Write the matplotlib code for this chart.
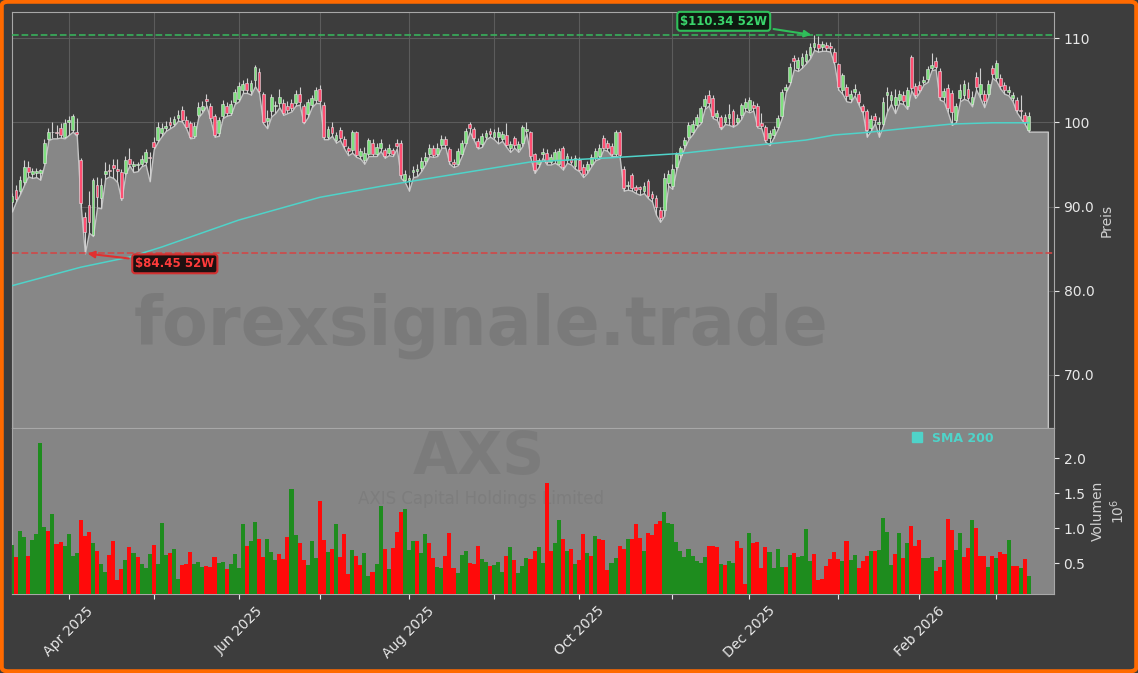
import numpy as np
import pandas as pd
import matplotlib
matplotlib.use("Agg")
import matplotlib.pyplot as plt
from matplotlib.lines import Line2D
from matplotlib.patches import FancyBboxPatch

# ---- data ----
start_date = "2025-03-12"
end_date = "2026-03-12"
holidays = ["2025-04-18", "2025-05-26", "2025-06-19", "2025-07-04", "2025-09-01",
            "2025-11-27", "2025-12-25", "2026-01-01", "2026-01-19", "2026-02-16"]

opens = [
    90.6, 92.0, 91.8, 92.9, 94.7, 93.9, 94.0, 94.0, 95.2, 98.0,
    98.8, 98.9, 99.3, 98.3, 100.1, 99.1, 98.8, 95.5, 88.8, 90.2,
    86.6, 92.6, 91.0, 93.9, 94.3, 94.9, 94.5, 94.1, 94.0, 95.7,
    94.8, 94.9, 95.1, 95.3, 95.9, 97.7, 97.9, 98.7, 99.3, 100.1,
    99.8, 100.5, 101.5, 100.3, 99.9, 98.4, 100.9, 101.5, 102.8, 101.9,
    100.7, 98.7, 100.7, 102.0, 101.1, 102.4, 102.8, 103.8, 104.7, 103.7,
    105.0, 106.0, 103.4, 100.2, 101.3, 101.9, 102.3, 102.3, 102.0, 102.3,
    102.3, 103.4, 101.9, 101.0, 102.1, 102.6, 104.0, 102.1, 98.3, 99.5,
    97.9, 99.1, 98.0, 96.9, 96.7, 98.8, 96.0, 95.5, 96.3, 97.6,
    96.3, 96.9, 96.7, 96.4, 96.7, 97.6, 97.6, 93.2, 93.1, 94.1,
    94.2, 94.6, 95.4, 96.3, 96.9, 96.3, 97.3, 98.0, 96.8, 95.3,
    95.1, 96.3, 97.6, 99.8, 99.2, 97.8, 97.4, 98.3, 99.0, 98.3,
    98.3, 98.0, 98.5, 96.9, 98.1, 96.8, 97.5, 99.0, 98.8, 96.2,
    95.0, 96.2, 96.4, 95.3, 95.5, 95.1, 96.9, 95.5, 95.7, 94.8,
    95.5, 94.7, 94.3, 95.1, 95.8, 96.0, 98.2, 97.6, 97.2, 96.2,
    98.9, 94.5, 92.4, 93.7, 92.3, 92.3, 91.9, 93.0, 91.5, 91.0,
    89.6, 89.6, 92.8, 92.4, 94.7, 96.1, 97.3, 98.3, 98.9, 99.7,
    100.1, 101.9, 103.2, 102.9, 100.6, 100.6, 100.1, 100.5, 101.3, 100.1,
    100.9, 101.7, 101.5, 102.1, 102.0, 99.9, 99.4, 98.1, 98.5, 99.5,
    100.8, 103.9, 104.8, 107.6, 106.4, 106.8, 107.3, 108.0, 109.0, 109.3,
    108.9, 109.2, 109.1, 108.4, 106.9, 103.8, 104.2, 102.8, 103.6, 103.4,
    101.9, 101.3, 99.3, 100.7, 99.8, 99.8, 103.2, 102.7, 102.1, 102.7,
    103.3, 101.9, 107.8, 104.3, 104.4, 104.8, 105.1, 106.5, 107.3, 106.1,
    103.0, 104.1, 103.5, 100.3, 102.9, 103.2, 104.0, 102.2, 105.4, 103.4,
    103.4, 103.4, 106.4, 105.3, 105.3, 104.4, 103.6, 102.9, 102.6, 101.5,
    100.9, 99.1,
]
highs = [
    91.6, 92.6, 93.6, 95.5, 95.4, 94.6, 94.6, 94.5, 98.0, 99.3,
    100.1, 99.7, 99.9, 100.4, 100.7, 101.0, 100.5, 95.8, 89.3, 91.9,
    93.4, 93.5, 93.4, 95.3, 95.0, 95.7, 95.7, 94.5, 96.0, 96.9,
    95.4, 95.3, 96.1, 96.8, 96.5, 98.3, 100.0, 99.9, 100.2, 100.6,
    100.8, 101.5, 102.0, 100.7, 100.2, 100.0, 102.4, 102.5, 103.4, 102.3,
    101.0, 100.6, 102.6, 102.4, 102.6, 104.0, 104.8, 105.0, 105.3, 105.0,
    106.8, 106.4, 103.6, 101.5, 103.4, 102.5, 104.0, 102.8, 102.5, 102.8,
    103.8, 104.2, 102.2, 102.8, 103.3, 104.2, 104.4, 102.4, 99.6, 100.1,
    98.9, 99.5, 98.4, 97.2, 99.1, 99.0, 96.9, 97.1, 98.2, 98.0,
    97.6, 98.0, 97.0, 97.4, 97.0, 98.0, 97.9, 94.4, 93.8, 94.8,
    95.0, 95.9, 96.5, 97.4, 97.3, 97.6, 98.5, 98.4, 97.1, 95.6,
    96.9, 97.9, 99.3, 100.1, 99.5, 98.1, 98.7, 99.1, 99.3, 99.2,
    99.4, 99.0, 99.9, 97.8, 98.4, 97.8, 99.7, 100.0, 99.0, 96.4,
    95.8, 96.9, 96.8, 96.3, 96.8, 97.0, 97.2, 96.4, 96.0, 96.1,
    95.9, 95.0, 95.4, 96.3, 97.0, 97.4, 98.5, 97.9, 97.5, 99.1,
    99.1, 94.8, 93.0, 94.0, 92.6, 92.5, 92.9, 93.3, 91.9, 91.4,
    90.0, 94.0, 94.4, 95.0, 96.5, 97.2, 98.3, 100.0, 100.3, 101.0,
    102.0, 103.2, 103.8, 103.2, 101.5, 100.9, 101.0, 102.2, 101.6, 101.0,
    102.3, 102.9, 103.0, 102.5, 102.3, 101.1, 99.7, 99.1, 99.6, 100.9,
    104.0, 104.5, 107.0, 108.0, 107.8, 108.2, 108.6, 109.4, 110.34, 110.3,
    109.7, 109.5, 109.5, 108.8, 107.1, 105.9, 104.6, 103.8, 104.5, 103.7,
    102.2, 101.6, 100.9, 101.1, 100.6, 103.0, 104.2, 103.7, 104.0, 103.9,
    103.7, 104.2, 108.0, 104.7, 104.9, 105.5, 106.7, 108.2, 107.8, 106.4,
    104.1, 104.5, 103.8, 102.3, 104.5, 105.0, 104.8, 103.7, 106.0, 106.4,
    103.8, 105.0, 106.8, 107.4, 105.7, 104.8, 104.3, 103.6, 103.0, 103.2,
    101.2, 101.2,
]
lows = [
    89.4, 90.6, 91.5, 92.6, 93.6, 93.4, 93.5, 93.2, 95.0, 97.9,
    98.1, 98.1, 98.2, 98.1, 98.5, 98.9, 98.4, 90.0, 84.45, 86.9,
    86.5, 89.9, 89.8, 93.3, 93.6, 93.4, 92.9, 90.8, 93.8, 94.9,
    94.1, 94.2, 94.8, 95.0, 93.0, 96.8, 97.7, 98.4, 99.0, 99.3,
    99.6, 100.2, 100.1, 99.3, 98.1, 98.2, 100.6, 101.2, 102.0, 100.3,
    98.3, 98.4, 100.5, 100.8, 100.9, 102.2, 102.5, 103.5, 103.5, 103.3,
    104.3, 103.5, 99.9, 99.3, 100.7, 101.1, 101.8, 100.9, 101.1, 101.3,
    102.0, 102.1, 99.9, 100.6, 101.8, 102.3, 102.3, 98.0, 98.0, 98.4,
    97.6, 97.9, 96.9, 96.1, 96.4, 95.9, 95.7, 95.1, 96.0, 96.0,
    96.0, 96.6, 95.8, 96.1, 96.0, 96.9, 93.4, 92.9, 91.9, 93.5,
    93.6, 94.2, 95.0, 96.0, 95.9, 96.0, 97.0, 97.0, 95.1, 94.7,
    94.9, 96.0, 97.4, 98.9, 97.9, 96.9, 97.1, 98.0, 98.3, 98.0,
    97.5, 97.8, 97.1, 96.5, 97.0, 96.5, 97.2, 98.7, 95.8, 94.0,
    94.7, 95.8, 95.0, 95.0, 95.2, 94.9, 94.4, 95.2, 95.0, 94.5,
    94.2, 93.5, 94.0, 94.8, 95.5, 95.7, 96.8, 96.6, 96.0, 96.0,
    95.9, 91.9, 92.0, 91.9, 91.6, 91.4, 91.6, 91.0, 90.6, 89.0,
    88.2, 88.9, 92.5, 92.1, 94.4, 95.8, 97.0, 98.0, 98.6, 99.4,
    99.9, 101.6, 102.0, 100.5, 100.3, 99.2, 99.8, 99.7, 99.5, 99.8,
    100.4, 101.4, 101.2, 101.4, 99.4, 99.3, 97.7, 97.3, 98.2, 99.2,
    100.5, 103.6, 104.5, 106.3, 106.1, 106.5, 107.0, 107.6, 108.6, 108.4,
    108.5, 108.5, 108.4, 106.9, 103.9, 103.4, 102.5, 102.4, 103.2, 102.1,
    101.1, 98.3, 99.0, 99.9, 98.3, 99.6, 101.3, 102.2, 101.1, 102.3,
    102.2, 101.6, 103.8, 102.9, 103.6, 104.5, 104.8, 106.2, 106.3, 102.7,
    102.5, 101.2, 99.7, 100.0, 102.5, 102.8, 102.6, 101.9, 103.9, 102.9,
    101.8, 103.1, 105.3, 104.9, 104.0, 103.4, 103.2, 102.5, 101.2, 100.5,
    99.8, 98.9,
]
closes = [
    91.2, 90.9, 93.2, 94.7, 94.1, 94.2, 94.2, 94.3, 97.5, 98.8,
    98.9, 98.7, 98.5, 99.9, 100.3, 100.8, 98.6, 90.4, 87.0, 88.2,
    93.2, 91.1, 92.6, 94.2, 94.2, 94.6, 94.2, 91.0, 95.5, 95.1,
    95.0, 95.1, 95.7, 96.5, 95.8, 97.1, 99.5, 99.3, 99.6, 99.7,
    100.4, 100.9, 100.3, 99.5, 98.3, 99.6, 101.8, 102.0, 102.5, 100.5,
    98.5, 100.3, 102.2, 101.1, 102.2, 103.6, 104.3, 104.5, 103.8, 104.7,
    106.6, 103.7, 100.1, 100.5, 103.0, 102.1, 103.0, 101.1, 101.5, 101.7,
    103.4, 102.4, 100.1, 102.4, 102.9, 103.9, 102.5, 98.3, 99.2, 98.7,
    98.5, 98.1, 97.2, 96.6, 98.9, 96.1, 96.6, 96.4, 97.9, 96.3,
    97.1, 97.5, 96.0, 97.0, 96.3, 97.2, 93.7, 93.9, 93.4, 94.3,
    94.5, 95.4, 95.9, 96.9, 96.1, 97.0, 98.0, 97.3, 95.4, 95.1,
    96.6, 97.6, 99.0, 99.3, 98.2, 97.1, 98.4, 98.7, 98.6, 98.8,
    98.9, 98.6, 97.3, 97.4, 97.3, 97.4, 99.4, 99.2, 96.0, 94.3,
    95.5, 96.5, 95.3, 95.9, 96.5, 96.6, 94.7, 96.0, 95.3, 95.8,
    94.4, 93.9, 95.0, 95.9, 96.6, 96.9, 97.0, 96.9, 96.3, 98.9,
    96.1, 92.2, 92.6, 92.2, 92.0, 92.1, 92.5, 91.3, 91.0, 90.0,
    88.7, 93.4, 93.9, 94.5, 96.2, 96.9, 97.9, 99.7, 99.8, 100.6,
    101.7, 102.8, 102.3, 100.8, 101.1, 99.4, 100.6, 101.0, 99.7, 100.5,
    102.1, 102.4, 102.6, 101.7, 99.6, 99.6, 97.9, 98.7, 99.2, 100.5,
    103.6, 104.2, 106.6, 107.3, 107.4, 107.8, 108.1, 109.0, 109.4, 108.8,
    109.3, 108.8, 108.8, 107.2, 104.2, 105.6, 103.1, 103.4, 104.0, 102.4,
    101.4, 99.1, 100.4, 100.3, 100.1, 102.4, 103.6, 103.2, 103.0, 103.4,
    102.5, 103.8, 104.1, 103.2, 103.9, 105.0, 106.3, 106.8, 106.6, 103.0,
    103.7, 101.7, 101.2, 101.9, 103.8, 104.6, 102.9, 103.0, 104.2, 104.6,
    102.5, 104.6, 105.7, 107.0, 104.3, 103.9, 103.8, 103.2, 101.5, 101.3,
    100.1, 100.8,
]
# volume in millions of shares
volume = [
    0.76, 0.59, 0.96, 0.87, 0.60, 0.83, 0.92, 2.22, 1.01, 0.96,
    1.20, 0.77, 0.80, 0.74, 0.92, 0.60, 0.65, 1.12, 0.89, 0.94,
    0.78, 0.67, 0.49, 0.37, 0.61, 0.82, 0.26, 0.41, 0.54, 0.73,
    0.64, 0.59, 0.49, 0.43, 0.63, 0.76, 0.49, 1.07, 0.61, 0.64,
    0.70, 0.27, 0.47, 0.49, 0.66, 0.49, 0.51, 0.44, 0.46, 0.44,
    0.59, 0.50, 0.52, 0.41, 0.49, 0.63, 0.43, 1.06, 0.74, 0.82,
    1.09, 0.84, 0.59, 0.84, 0.66, 0.54, 0.63, 0.56, 0.87, 1.56,
    0.90, 0.79, 0.54, 0.47, 0.82, 0.57, 1.39, 0.83, 0.66, 0.70,
    1.06, 0.59, 0.91, 0.34, 0.69, 0.60, 0.47, 0.64, 0.31, 0.37,
    0.49, 1.31, 0.70, 0.41, 0.71, 0.94, 1.23, 1.27, 0.69, 0.82,
    0.82, 0.64, 0.91, 0.79, 0.57, 0.44, 0.43, 0.60, 0.93, 0.43,
    0.36, 0.61, 0.67, 0.50, 0.49, 0.74, 0.56, 0.52, 0.46, 0.47,
    0.52, 0.37, 0.60, 0.73, 0.54, 0.36, 0.46, 0.57, 0.56, 0.67,
    0.73, 0.50, 1.64, 0.67, 0.79, 1.11, 0.84, 0.67, 0.70, 0.49,
    0.54, 0.91, 0.64, 0.60, 0.89, 0.84, 0.83, 0.40, 0.50, 0.57,
    0.74, 0.70, 0.84, 0.84, 1.06, 0.86, 0.67, 0.93, 0.90, 1.06,
    1.10, 1.23, 1.07, 1.06, 0.80, 0.67, 0.59, 0.70, 0.60, 0.53,
    0.50, 0.59, 0.74, 0.74, 0.73, 0.49, 0.47, 0.53, 0.50, 0.82,
    0.71, 0.20, 0.93, 0.79, 0.80, 0.43, 0.73, 0.66, 0.43, 0.70,
    0.44, 0.44, 0.61, 0.64, 0.59, 0.60, 0.99, 0.53, 0.63, 0.26,
    0.27, 0.46, 0.56, 0.66, 0.56, 0.53, 0.82, 0.54, 0.61, 0.43,
    0.53, 0.60, 0.67, 0.67, 0.69, 1.14, 0.94, 0.47, 0.63, 0.93,
    0.57, 0.79, 1.03, 0.74, 0.83, 0.57, 0.57, 0.59, 0.39, 0.44,
    0.54, 1.13, 0.97, 0.69, 0.93, 0.59, 0.71, 1.11, 1.00, 0.60,
    0.60, 0.44, 0.60, 0.57, 0.66, 0.63, 0.83, 0.46, 0.46, 0.43,
    0.56, 0.31,
]
# volume bar colour per day: G = up, R = down
volume_dir = ("GRGGRGGGGR GRRGGGGRRR GRGGRRRRGR GRGGGRGGGR GGRRRGGGRR "
              "RGGRGGGGRG GRRGGGRRRG GRRGGGRRGR GRRRGRRGGR GGRGRRRGGG "
              "RGGRRGGRRR GGGRRRGGRG GGRGRGGGRR GGRRGGRGRG RRGRGRRRGG "
              "RRGRRRGRRR RGGGGGGGGG GGRRRGRGGR RRGRRRRGGG GRGRGGGGRR "
              "RRRRRGRGGR RRGRGGGGRG RGRRRGGGRR GRRGGRRGRR RGRGRRGRRG RG").replace(" ", "")

# SMA 200 read at a few trading-day positions
sma_idx = [0, 17, 29, 37, 56, 76, 91, 96, 128, 148, 165, 180, 190, 196, 203, 211, 221, 232, 242, 251]
sma_val = [80.6, 82.8, 84.0, 85.2, 88.4, 91.1, 92.4, 92.8, 95.3, 95.8, 96.3, 97.1, 97.6, 97.9,
           98.5, 98.8, 99.3, 99.8, 99.95, 99.95]

high_52w = 110.34
low_52w = 84.45
high_day = 198
low_day = 18

price_ticks = [70, 80, 90, 100, 110]
price_tick_labels = ["70.0", "80.0", "90.0", "100", "110"]
vol_ticks = [0.5, 1.0, 1.5, 2.0]
vol_tick_labels = ["0.5", "1.0", "1.5", "2.0"]

# ---- styling ----
BG = "#3d3d3d"
FILL = "#878787"
TXT = "#e8e8e8"
SPINE = "#a8a8a8"
SMA_COL = "#4fd3c9"

opens = np.array(opens)
highs = np.array(highs)
lows = np.array(lows)
closes = np.array(closes)
n = len(closes)
x = np.arange(n)

dates = pd.bdate_range(start_date, end_date)
dates = dates[~dates.isin(pd.to_datetime(holidays))][:n]
months = dates.to_period("M")
month_idx = [i for i in range(1, len(dates)) if months[i] != months[i - 1]]
month_lbl = [dates[i].strftime("%b %Y") if dates[i].month % 2 == 0 else "" for i in month_idx]

fig = plt.figure(figsize=(11.38, 6.73), dpi=100, facecolor=BG)
ax = fig.add_axes([0.0105, 0.364, 0.9156, 0.6181])
axv = fig.add_axes([0.0105, 0.1174, 0.9156, 0.2466], sharex=ax)

# price panel
ax.set_facecolor(BG)
ax.set_axisbelow(True)
ax.grid(True, color="#5c5c5c", lw=0.8)
x_fill = np.append(x, n + 3.7)
low_fill = np.append(lows, lows[-1])
ax.fill_between(x_fill, low_fill, 50, facecolor=FILL, edgecolor="#c4c4c4", lw=1.0, zorder=2)

up = closes >= opens
ax.vlines(x, lows, highs, color="#d0d0d0", lw=0.8, zorder=3)
body_bottom = np.minimum(opens, closes)
body_h = np.maximum(np.abs(closes - opens), 0.1)
ax.bar(x, body_h, bottom=body_bottom, width=0.7,
       color=np.where(up, "#7fe07f", "#ff4f72"), edgecolor="#e6e6e6", lw=0.4, zorder=4)

ax.plot(sma_idx, sma_val, color=SMA_COL, lw=1.1, zorder=5)

ax.axhline(high_52w, color="#38b45c", ls="--", lw=1.3, alpha=0.9, zorder=3)
ax.axhline(low_52w, color="#d24646", ls="--", lw=1.3, alpha=0.9, zorder=3)

ax.annotate(f"${high_52w:.2f} 52W", xy=(high_day, high_52w), xytext=(175.7, 112.0),
            color="#3ad66c", fontsize=8.5, fontweight="bold", ha="center", va="center", zorder=10,
            bbox=dict(boxstyle="round,pad=0.25", fc="#0e1a10", ec="#2fbf5a", lw=1.5),
            arrowprops=dict(arrowstyle="-|>", color="#2fbf5a", lw=1.5, mutation_scale=10))
ax.annotate(f"${low_52w:.2f} 52W", xy=(low_day, low_52w), xytext=(40.2, 83.2),
            color="#ff3b3b", fontsize=8.5, fontweight="bold", ha="center", va="center", zorder=10,
            bbox=dict(boxstyle="round,pad=0.25", fc="#1e1010", ec="#d23030", lw=1.5),
            arrowprops=dict(arrowstyle="-|>", color="#e03030", lw=1.5, mutation_scale=10))

ax.text(0.45, 0.245, "forexsignale.trade", transform=ax.transAxes, fontsize=48,
        fontweight="bold", color="#000000", alpha=0.09, ha="center", va="center", zorder=6)

ax.set_ylim(63.7, 113.1)
ax.set_xlim(0, 257.2)
ax.yaxis.tick_right()
ax.yaxis.set_label_position("right")
ax.set_yticks(price_ticks)
ax.set_yticklabels(price_tick_labels)
ax.set_ylabel("Preis", color="#d0d0d0", fontsize=10)
ax.tick_params(axis="y", colors=TXT, labelsize=10)
ax.tick_params(axis="x", labelbottom=False, length=0)
for s in ax.spines.values():
    s.set_color(SPINE)

# volume panel
axv.set_facecolor("#858585")
bar_cols = ["#1e8c1e" if d == "G" else "#ff0a0a" for d in volume_dir]
axv.bar(x, volume, width=1.0, color=bar_cols, zorder=3)
axv.text(0.448, 0.82, "AXS", transform=axv.transAxes, fontsize=42, fontweight="bold",
         color="#000000", alpha=0.07, ha="center", va="center", zorder=1)
axv.text(0.45, 0.575, "AXIS Capital Holdings Limited", transform=axv.transAxes, fontsize=12,
         color="#000000", alpha=0.06, ha="center", va="center", zorder=1)
axv.set_ylim(0.057, 2.43)
axv.yaxis.tick_right()
axv.yaxis.set_label_position("right")
axv.set_yticks(vol_ticks)
axv.set_yticklabels(vol_tick_labels)
axv.set_ylabel("Volumen\n$10^6$", color="#d0d0d0", fontsize=10)
axv.tick_params(axis="y", colors=TXT, labelsize=10)
axv.set_xticks(month_idx)
axv.set_xticklabels(month_lbl, rotation=45)
axv.tick_params(axis="x", colors=TXT, labelsize=10)
for s in axv.spines.values():
    s.set_color(SPINE)

axv.legend(handles=[Line2D([], [], marker="s", ls="none", color=SMA_COL, markersize=7)],
           labels=["SMA 200"], loc="upper right", bbox_to_anchor=(0.953, 1.045), frameon=False,
           prop={"weight": "bold", "size": 9}, labelcolor=SMA_COL, handletextpad=0.2)

# orange frame around the figure
fig.patches.append(FancyBboxPatch((0.0015, 0.0025), 0.997, 0.995, transform=fig.transFigure,
                                  boxstyle="round,pad=0,rounding_size=0.006",
                                  fill=False, edgecolor="#ff6a00", lw=3))

fig.savefig("out.png", dpi=100, facecolor=BG)
